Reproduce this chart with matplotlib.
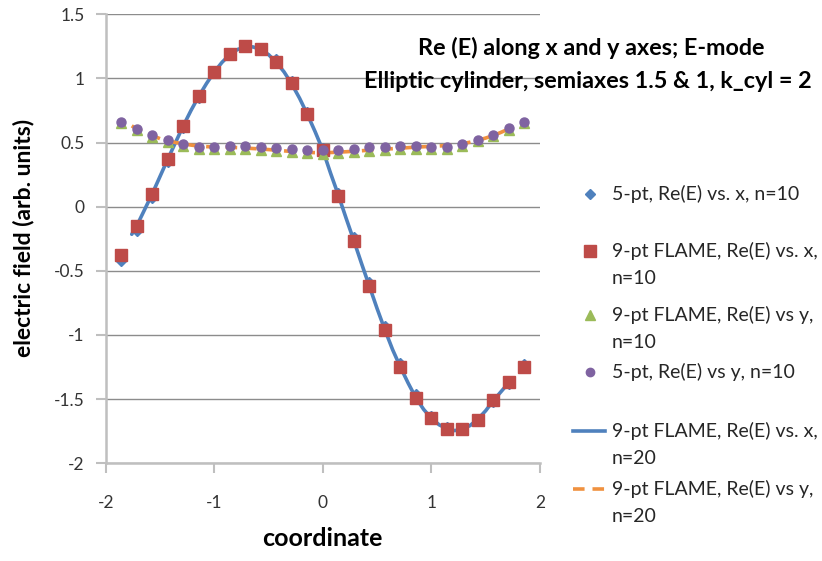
import matplotlib
matplotlib.use("Agg")
import matplotlib.pyplot as plt
from matplotlib.lines import Line2D
import numpy as np

plt.rcParams['font.family'] = ['Lato', 'DejaVu Sans']

# ---------------- data ----------------
k10 = list(range(-13, 14))
x10 = [k / 7 for k in k10]

fivept_x_n10 = [-0.42, -0.19, 0.07, 0.35, 0.61, 0.85, 1.04, 1.18, 1.25, 1.24, 1.15, 0.98, 0.74, 0.46,
                0.11, -0.24, -0.59, -0.93, -1.22, -1.46, -1.63, -1.72, -1.73, -1.66, -1.52, -1.38, -1.23]
flame_x_n10 = [-0.38, -0.15, 0.10, 0.37, 0.63, 0.86, 1.05, 1.19, 1.25, 1.23, 1.13, 0.96, 0.72, 0.44,
               0.08, -0.27, -0.62, -0.96, -1.25, -1.49, -1.65, -1.73, -1.73, -1.66, -1.51, -1.37, -1.25]
flame_y_n10 = [0.65, 0.595, 0.545, 0.505, 0.475, 0.45, 0.448, 0.45, 0.448, 0.44, 0.432, 0.425, 0.418, 0.414,
               0.418, 0.425, 0.432, 0.44, 0.448, 0.45, 0.448, 0.45, 0.475, 0.508, 0.548, 0.598, 0.65]
fivept_y_n10 = [0.66, 0.607, 0.556, 0.517, 0.489, 0.465, 0.465, 0.472, 0.472, 0.462, 0.458, 0.452, 0.444, 0.439,
                0.444, 0.452, 0.462, 0.462, 0.47, 0.47, 0.462, 0.465, 0.489, 0.522, 0.561, 0.61, 0.662]

x20 = [-1.76] + [k / 14 for k in range(-24, 25)] + [1.73]
flame_x_n20 = [-0.215,
               -0.15, -0.025, 0.10, 0.235, 0.37, 0.50, 0.63, 0.75, 0.86, 0.96, 1.05, 1.125, 1.185,
               1.225, 1.245, 1.245, 1.225, 1.185, 1.125, 1.05, 0.955, 0.845, 0.72, 0.585, 0.44,
               0.26, 0.09, -0.09, -0.265, -0.445, -0.62, -0.795, -0.96, -1.115, -1.25, -1.375, -1.49,
               -1.58, -1.65, -1.70, -1.73, -1.745, -1.735, -1.705, -1.655, -1.59, -1.51, -1.44, -1.37,
               -1.345]
flame_y_n20 = [0.63,
               0.605, 0.58, 0.555, 0.53, 0.515, 0.50, 0.49, 0.48, 0.472, 0.468, 0.465, 0.465, 0.463,
               0.46, 0.457, 0.453, 0.45, 0.445, 0.44, 0.435, 0.43, 0.426, 0.423, 0.421, 0.42,
               0.422, 0.425, 0.428, 0.432, 0.436, 0.44, 0.444, 0.448, 0.452, 0.456, 0.46, 0.464,
               0.467, 0.47, 0.473, 0.477, 0.482, 0.49, 0.503, 0.518, 0.535, 0.555, 0.58, 0.607,
               0.613]

x_ticks = [-2, -1, 0, 1, 2]
y_ticks = [-2, -1.5, -1, -0.5, 0, 0.5, 1, 1.5]
y_tick_labels = ['-2', '-1.5', '-1', '-0.5', '0', '0.5', '1', '1.5']

labels = ['5-pt, Re(E) vs. x, n=10',
          '9-pt FLAME, Re(E) vs. x,\nn=10',
          '9-pt FLAME, Re(E) vs y,\nn=10',
          '5-pt, Re(E) vs y, n=10',
          '9-pt FLAME, Re(E) vs. x,\nn=20',
          '9-pt FLAME, Re(E) vs y,\nn=20']
title_lines = ['Re (E) along x and y axes; E-mode',
               'Elliptic cylinder, semiaxes 1.5 & 1, k_cyl = 2']

# ---------------- styles ----------------
BLUE = '#4F81BD'
RED = '#BE4B48'
GREEN = '#9BBB59'
PURPLE = '#7F63A1'
ORANGE = '#F0913F'
LINEBLUE = '#4F81BD'

W, H = 822, 561
fig = plt.figure(figsize=(W / 100, H / 100), dpi=100)
ax = fig.add_axes([105.7 / W, 1 - 463.3 / H, (540 - 105.7) / W, (463.3 - 14.2) / H])

def fx(px):
    return px / W

def fy(py):
    return 1 - py / H

ax.plot(x20, flame_x_n20, color=LINEBLUE, lw=2.6, zorder=2, solid_capstyle='round')
ax.plot(x20, flame_y_n20, color=ORANGE, lw=2.6, ls=(0, (3.2, 2.2)), zorder=2)
ax.plot(x10, fivept_x_n10, ls='none', marker='D', ms=5.5, color=BLUE, zorder=3)
ax.plot(x10, flame_x_n10, ls='none', marker='s', ms=9, color=RED, zorder=4)
ax.plot(x10, flame_y_n10, ls='none', marker='^', ms=7, color=GREEN, zorder=5)
ax.plot(x10, fivept_y_n10, ls='none', marker='o', ms=6.5, color=PURPLE, zorder=6)

ax.set_xlim(-2, 2)
ax.set_ylim(-2, 1.5)
ax.set_xticks(x_ticks)
ax.set_xticklabels([str(t) for t in x_ticks])
ax.set_yticks(y_ticks)
ax.set_yticklabels(y_tick_labels)
ax.yaxis.grid(True, color='#8c8c8c', lw=1.0)
ax.set_axisbelow(True)
for s in ['top', 'right']:
    ax.spines[s].set_visible(False)
for s in ['left', 'bottom']:
    ax.spines[s].set_color('#BFBFBF')
    ax.spines[s].set_linewidth(1.8)
ax.tick_params(axis='both', direction='out', length=7, width=1.5, color='#BFBFBF',
               labelsize=12.5, labelcolor='#333333', pad=16)
ax.tick_params(axis='y', pad=8)

ax.set_xlabel('coordinate', fontsize=18, fontweight='bold')
ax.set_ylabel('electric field (arb. units)', fontsize=16.5, fontweight='bold')
ax.xaxis.label.set_va('center')
ax.yaxis.label.set_va('center')
ax.yaxis.label.set_ha('center')
ax.xaxis.set_label_coords(fx(322.5), fy(538), transform=fig.transFigure)
ax.yaxis.set_label_coords(fx(24), fy(238), transform=fig.transFigure)

fig.text(fx(591), fy(48), title_lines[0], ha='center', va='center',
         fontsize=16.8, fontweight='bold')
fig.text(fx(588), fy(81), title_lines[1], ha='center', va='center',
         fontsize=16.8, fontweight='bold')

# ---------------- legend (manual, Excel-like) ----------------
handles = [dict(marker='D', ms=5.5, color=BLUE, ls='none'),
           dict(marker='s', ms=8, color=RED, ls='none'),
           dict(marker='^', ms=7, color=GREEN, ls='none'),
           dict(marker='o', ms=6, color=PURPLE, ls='none'),
           dict(marker=None, color=LINEBLUE, lw=2.6, ls='-'),
           dict(marker=None, color=ORANGE, lw=2.6, ls=(0, (3.2, 2.2)))]
rows_py = [194, 251, 315, 372, 431, 489]
line_gap = 27
for lab, h, py in zip(labels, handles, rows_py):
    if h['marker'] is None:
        ln = Line2D([fx(573), fx(605)], [fy(py), fy(py)], transform=fig.transFigure,
                    color=h['color'], lw=h['lw'], ls=h['ls'])
    else:
        ln = Line2D([fx(590)], [fy(py)], transform=fig.transFigure, **h)
    fig.add_artist(ln)
    for i, part in enumerate(lab.split('\n')):
        fig.text(fx(612), fy(py + i * line_gap), part, ha='left', va='center',
                 fontsize=14, color='#262626')

fig.savefig('out.png', dpi=100)
